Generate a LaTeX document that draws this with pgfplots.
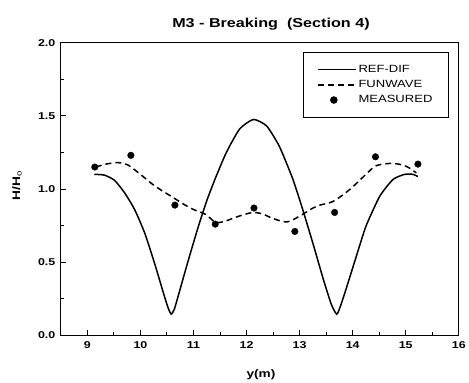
\documentclass[border=0pt]{standalone}
\usepackage{fontspec}
\setmainfont{Liberation Sans}[FakeStretch=1.25]
\usepackage{pgfplots}
\pgfplotsset{compat=1.18}
\pgfplotsset{
  longline/.style={legend image code/.code={\draw[##1] (0bp,0bp) -- (38bp,0bp);}},
  markentry/.style={legend image code/.code={\draw[mark repeat=2,mark phase=2,##1] plot coordinates {(0bp,0bp)(16bp,0bp)(38bp,0bp)};}},
}
\begin{document}
\begin{tikzpicture}
\begin{axis}[
  scale only axis, width=399bp, height=293.6bp, clip=false,
  xmin=8.5, xmax=16, ymin=0, ymax=2,
  xtick={9,10,...,16}, ytick={0,0.5,1,1.5,2},
  minor x tick num=1, minor y tick num=1,
  xtick pos=bottom, ytick pos=left,
  tick align=inside, major tick length=5bp, minor tick length=3bp,
  axis line style={line width=1.2bp},
  every tick/.style={black, line width=1bp},
  /pgf/number format/assume math mode=true,
  ticklabel style={font=\fontsize{10}{12}\selectfont\bfseries},
  yticklabel style={/pgf/number format/fixed, /pgf/number format/precision=1, /pgf/number format/fixed zerofill},
  xticklabel style={yshift=-3bp},
  yticklabel style={xshift=-2bp},
  legend style={at={(0.975,0.968)}, anchor=north east, draw=black, line width=0.9bp,
    font=\fontsize{10.5}{12}\selectfont, inner xsep=14bp, inner ysep=11bp, row sep=2.5bp},
  legend cell align=left,
]
\addplot[black, line width=1.5bp, smooth, tension=0.35, longline] coordinates {
(9.13,1.10)(9.32,1.095)(9.51,1.06)(9.70,0.975)(9.89,0.86)(10.08,0.70)(10.26,0.50)
(10.45,0.27)(10.52,0.19)(10.58,0.145)(10.64,0.18)(10.72,0.28)(10.90,0.51)(11.08,0.73)
(11.25,0.92)(11.42,1.08)(11.62,1.25)(11.87,1.41)(12.13,1.475)(12.38,1.43)(12.62,1.29)
(12.87,1.07)(13.05,0.87)(13.25,0.63)(13.45,0.38)(13.60,0.21)(13.70,0.145)(13.77,0.20)
(13.87,0.31)(14.06,0.53)(14.25,0.745)(14.51,0.95)(14.76,1.065)(14.98,1.10)(15.14,1.10)(15.23,1.085)
};
\addlegendentry{REF-DIF}
\addplot[black, line width=1.5bp, dash pattern=on 6bp off 4bp, smooth, tension=0.5, longline] coordinates {
(9.16,1.15)(9.35,1.17)(9.57,1.18)(9.76,1.165)(10.0,1.10)(10.20,1.04)(10.40,0.99)(10.58,0.95)
(10.82,0.895)(11.0,0.86)(11.21,0.83)(11.35,0.79)(11.43,0.77)(11.60,0.78)(11.74,0.80)(11.95,0.825)
(12.13,0.84)(12.30,0.83)(12.49,0.80)(12.76,0.775)(13.0,0.815)(13.25,0.87)(13.38,0.89)(13.63,0.915)
(13.94,0.995)(14.25,1.10)(14.45,1.16)(14.76,1.175)(15.01,1.155)(15.20,1.11)
};
\addlegendentry{FUNWAVE}
\addplot[only marks, mark=*, mark size=3.3bp, black, markentry] coordinates {
(9.14,1.15)(9.82,1.23)(10.65,0.89)(11.41,0.76)(12.14,0.87)(12.91,0.71)(13.66,0.84)(14.43,1.22)(15.23,1.17)
};
\addlegendentry{MEASURED\hspace{10bp}}
\node[font=\fontsize{13}{15}\selectfont\bfseries] at (rel axis cs:0.528,1) [yshift=18.7bp] {M3 - Breaking\ \ (Section 4)};
\node[font=\fontsize{11}{13}\selectfont\bfseries] at (rel axis cs:0.503,0) [yshift=-39bp] {y(m)};
\node[font=\fontsize{11}{13}\selectfont\bfseries, rotate=90, yshift=44bp] at (rel axis cs:0,0.51) {H/H$_\mathrm{o}$};
\end{axis}
\path (current axis.south west) +(-61bp,-47.7bp) (current axis.north east) +(9bp,42.7bp);
\end{tikzpicture}
\end{document}
